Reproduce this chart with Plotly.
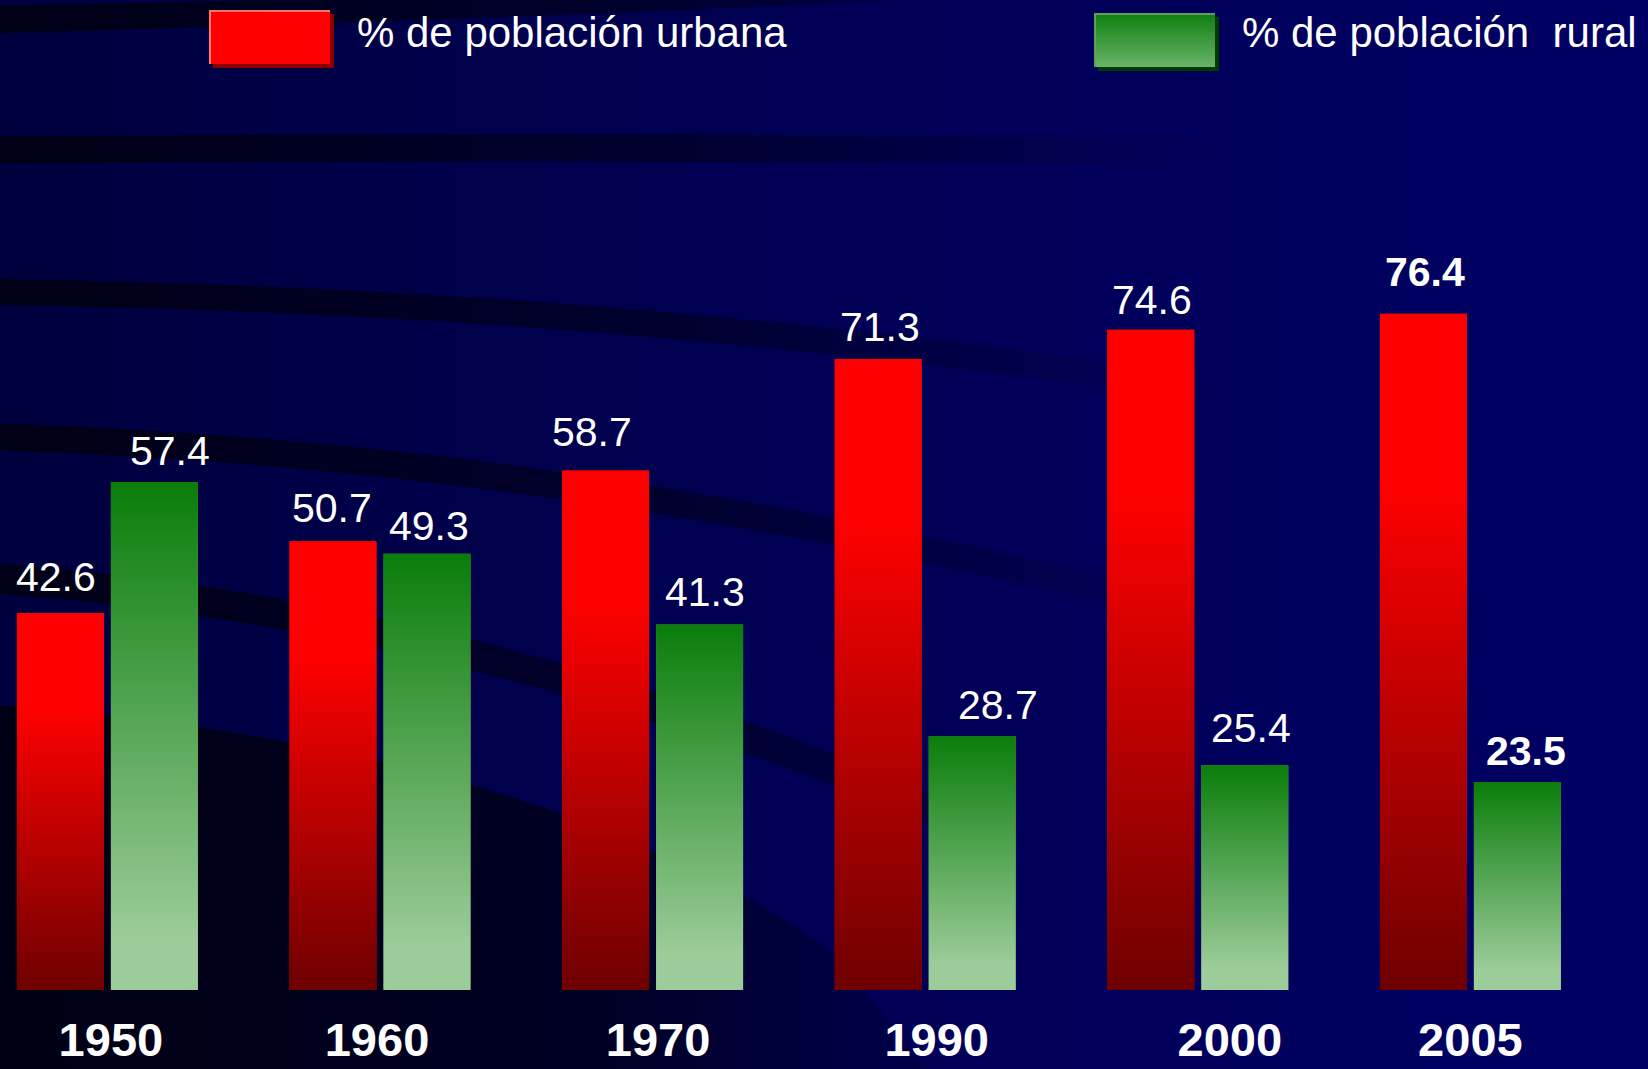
import base64
import plotly.graph_objects as go

# ---------------- data ----------------
years = ["1950", "1960", "1970", "1990", "2000", "2005"]
urbana = [42.6, 50.7, 58.7, 71.3, 74.6, 76.4]
rural = [57.4, 49.3, 41.3, 28.7, 25.4, 23.5]
legend_labels = ["% de población urbana", "% de población\u00a0 rural"]
bold_years = ["2005"]

# ---------------- geometry / style ----------------
W, H = 1648, 1069
PLOT_H = 990                      # baseline of the bars in px
PX_PER_CAT = 272.6
X0 = -0.394
X1 = X0 + W / PX_PER_CAT
Y_MAX = PLOT_H / 8.85
BAR_W = 87 / PX_PER_CAT
OFF_U = -90.5 / PX_PER_CAT
OFF_R = 3.5 / PX_PER_CAT
LABEL_SHIFT_PX = [3.5, -3, 5.5, 11.5, 32, 0]   # horizontal nudges of the year labels
# (dx, dy) nudges in px of the value labels, as placed in the original slide
NUDGE_U = [(-4, 6), (-1, 3), (-14, 9), (2, 2), (1, 0), (2, 12)]
NUDGE_R = [(16, 1), (2, -2), (5, 3), (26, 1), (6, 7), (9, 1)]
FONT = "Liberation Sans, Arial, sans-serif"

RED_CS = [[0, "#6e0000"], [0.75, "#ff0000"], [1, "#ff0000"]]
GREEN_CS = [[0, "#9ccc9a"], [0.1, "#9ccc9a"], [1, "#0a7d0a"]]

# ---------------- background (decorative svg) ----------------
svg = f"""<svg xmlns='http://www.w3.org/2000/svg' width='{W}' height='{H}' viewBox='0 0 {W} {H}' preserveAspectRatio='none'>
<defs>
<linearGradient id='bg' gradientUnits='userSpaceOnUse' x1='0' y1='0' x2='{W}' y2='0'>
<stop offset='0' stop-color='#00003e'/><stop offset='0.5' stop-color='#000055'/><stop offset='1' stop-color='#000064'/>
</linearGradient>
<linearGradient id='band' gradientUnits='userSpaceOnUse' x1='0' y1='0' x2='1250' y2='0'>
<stop offset='0' stop-color='#000016' stop-opacity='1'/><stop offset='0.55' stop-color='#00001e' stop-opacity='0.65'/><stop offset='1' stop-color='#000028' stop-opacity='0'/>
</linearGradient>
<linearGradient id='dark' gradientUnits='userSpaceOnUse' x1='0' y1='0' x2='1000' y2='0'>
<stop offset='0' stop-color='#000014' stop-opacity='1'/><stop offset='0.6' stop-color='#00001a' stop-opacity='0.8'/><stop offset='1' stop-color='#000028' stop-opacity='0.1'/>
</linearGradient>
</defs>
<rect width='{W}' height='{H}' fill='url(#bg)'/>
<path d='M0,6 Q150,3 260,0 L900,0 Q450,22 0,33 Z' fill='url(#band)'/>
<path d='M0,150 C400,147 800,147 1250,152' stroke='url(#band)' stroke-width='27' fill='none'/>
<path d='M0,292 C350,297 750,320 1250,395' stroke='url(#band)' stroke-width='26' fill='none'/>
<path d='M0,437 C300,447 650,480 1150,600' stroke='url(#band)' stroke-width='27' fill='none'/>
<path d='M0,579 C300,600 650,680 1000,840' stroke='url(#band)' stroke-width='30' fill='none'/>
<path d='M0,705 C320,730 620,800 830,950 L930,1069 L0,1069 Z' fill='url(#dark)'/>
</svg>"""
bg_uri = "data:image/svg+xml;base64," + base64.b64encode(svg.encode("utf-8")).decode("ascii")

fig = go.Figure()

idx = list(range(len(years)))

# base bars (data)
fig.add_trace(go.Bar(x=idx, y=urbana, width=BAR_W, offset=OFF_U, name=legend_labels[0],
                     marker=dict(color="#c00000", line=dict(width=0)), hoverinfo="y"))
fig.add_trace(go.Bar(x=idx, y=rural, width=BAR_W, offset=OFF_R, name=legend_labels[1],
                     marker=dict(color="#5a9a5a", line=dict(width=0)), hoverinfo="y"))

# gradient faces of the bars
for series, off, cs in ((urbana, OFF_U, RED_CS), (rural, OFF_R, GREEN_CS)):
    for i, v in zip(idx, series):
        xl, xr = i + off, i + off + BAR_W
        fig.add_trace(go.Scatter(
            x=[xl, xr, xr, xl, xl], y=[0, 0, v, v, 0], mode="none", fill="toself",
            fillgradient=dict(type="vertical", colorscale=cs),
            hoverinfo="skip", showlegend=False))

# value labels
for series, off, nudges in ((urbana, OFF_U, NUDGE_U), (rural, OFF_R, NUDGE_R)):
    for i, v in zip(idx, series):
        b = years[i] in bold_years
        dx, dy = nudges[i]
        fig.add_annotation(x=i + off + BAR_W / 2, y=v, xref="x", yref="y",
                           text=f"{v:.1f}", showarrow=False, yanchor="bottom",
                           xshift=dx, yshift=5 + dy,
                           font=dict(family=FONT, size=41, color="white",
                                     weight="bold" if b else "normal"))

# ---------------- custom legend (pixel overlay axes) ----------------
def rect(x0, y0, x1, y1):
    return [x0, x1, x1, x0, x0], [y0, y0, y1, y1, y0]

swatches = [
    dict(x=209, y=10, shadow="#8a0000", face=[[0, "#ff0000"], [1, "#ff0000"]], hl="#ff7070"),
    dict(x=1094, y=13, shadow="#003c00", face=[[0, "#6ab46a"], [1, "#0e7e0e"]], hl="#5e9e5e"),
]
SW, SH = 121, 54
for s, lab in zip(swatches, legend_labels):
    xs, ys = rect(s["x"] + 4, s["y"] + 4, s["x"] + 4 + SW, s["y"] + 4 + SH)
    fig.add_trace(go.Scatter(x=xs, y=ys, xaxis="x2", yaxis="y2", mode="none", fill="toself",
                             fillcolor=s["shadow"], hoverinfo="skip", showlegend=False))
    xs, ys = rect(s["x"], s["y"], s["x"] + SW, s["y"] + SH)
    fig.add_trace(go.Scatter(x=xs, y=ys, xaxis="x2", yaxis="y2", mode="none", fill="toself",
                             fillgradient=dict(type="vertical", colorscale=s["face"]),
                             hoverinfo="skip", showlegend=False))
    fig.add_trace(go.Scatter(x=[s["x"] + 1, s["x"] + 1, s["x"] + SW], y=[s["y"] + SH, s["y"] + 1, s["y"] + 1],
                             xaxis="x2", yaxis="y2", mode="lines",
                             line=dict(color=s["hl"], width=2), hoverinfo="skip", showlegend=False))
    fig.add_annotation(x=(s["x"] + SW + 25) / W, y=1 - 33 / PLOT_H, xref="paper", yref="paper",
                       text=lab, showarrow=False, xanchor="left", yanchor="middle",
                       font=dict(family=FONT, size=42, color="white"))

fig.update_layout(
    width=W, height=H,
    margin=dict(l=0, r=0, t=0, b=H - PLOT_H, pad=0, autoexpand=False),
    paper_bgcolor="#000058", plot_bgcolor="rgba(0,0,0,0)",
    barmode="overlay", showlegend=False,
    images=[dict(source=bg_uri, xref="paper", yref="paper", x=0, y=1, sizex=1, sizey=H / PLOT_H,
                 xanchor="left", yanchor="top", sizing="stretch", layer="below")],
    xaxis=dict(range=[X0, X1], automargin=False,
               tickvals=[i + s / PX_PER_CAT for i, s in zip(idx, LABEL_SHIFT_PX)],
               ticktext=years, showgrid=False, zeroline=False,
               showline=False, ticks="", fixedrange=True, ticklabelstandoff=18,
               tickfont=dict(family=FONT, size=47, color="white", weight="bold")),
    yaxis=dict(range=[0, Y_MAX], visible=False, fixedrange=True, automargin=False),
    xaxis2=dict(overlaying="x", range=[0, W], visible=False, fixedrange=True, automargin=False),
    yaxis2=dict(overlaying="y", range=[PLOT_H, 0], visible=False, fixedrange=True, automargin=False),
)

fig.write_html("out.html", config={"displayModeBar": False},
               post_script="document.body.style.margin='0';document.body.style.overflow='hidden';")
